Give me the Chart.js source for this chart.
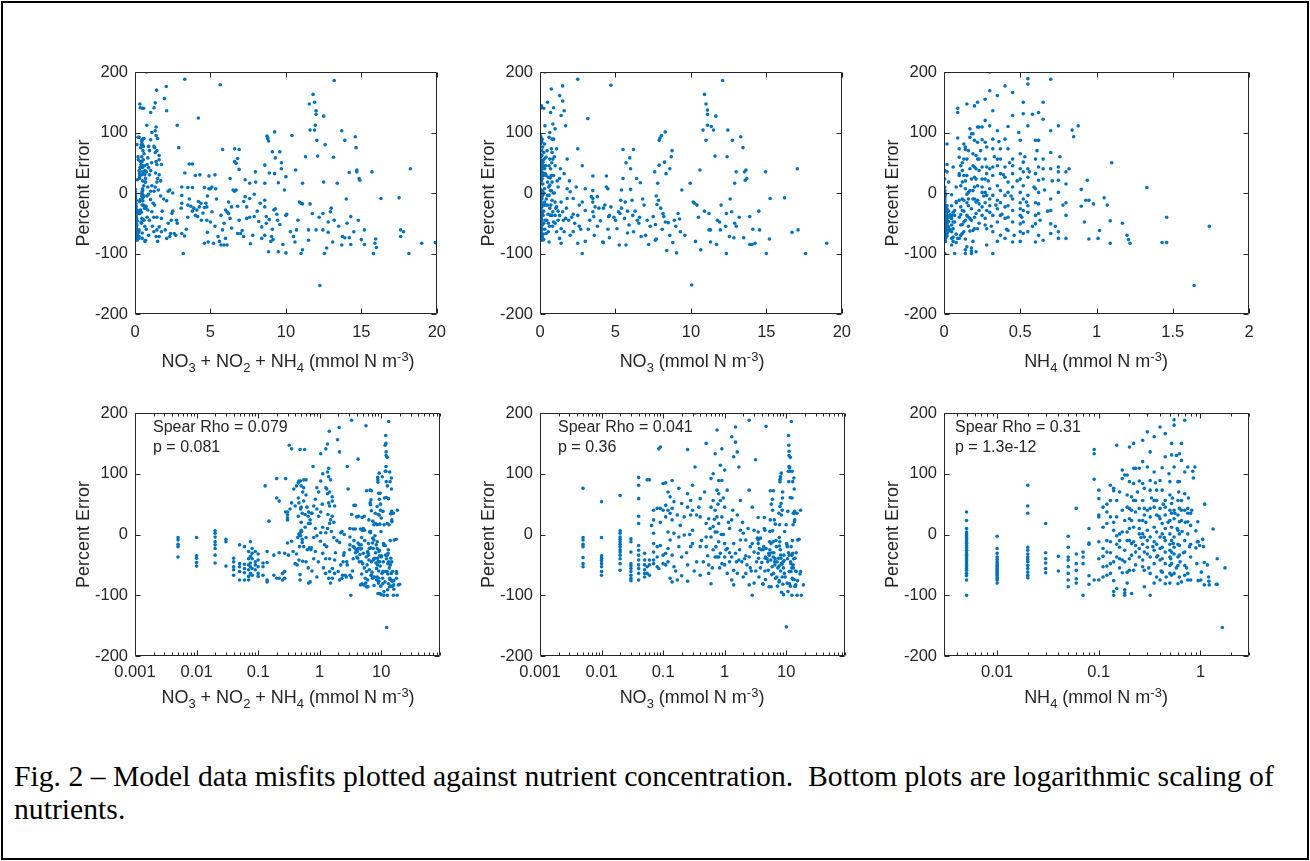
<!DOCTYPE html>
<html><head><meta charset="utf-8">
<script src="https://cdn.jsdelivr.net/npm/chart.js@4.4.1/dist/chart.umd.min.js"></script>
<style>
html,body{margin:0;padding:0;background:#fff;}
body{width:1310px;height:861px;position:relative;overflow:hidden;font-family:"Liberation Sans",Arial,sans-serif;}
#frame{position:absolute;left:1px;top:1px;width:1304px;height:855px;border:2px solid #000;}
canvas{position:absolute;}
.xt{position:absolute;font-size:18px;color:#262626;white-space:nowrap;transform:translateX(-50%);line-height:1;}
.xt sub{font-size:72%;position:relative;top:0.38em;vertical-align:baseline;}
.xt sup{font-size:72%;position:relative;top:-0.5em;vertical-align:baseline;}
.ann{position:absolute;font-size:16px;color:#262626;line-height:20px;white-space:nowrap;}
#cap{position:absolute;left:14px;top:760px;font-family:"Liberation Serif","Times New Roman",serif;font-size:29.7px;line-height:33px;color:#000;white-space:nowrap;}
</style></head><body>
<div id="frame"></div>
<canvas id="c1"></canvas><canvas id="c2"></canvas><canvas id="c3"></canvas>
<canvas id="c4"></canvas><canvas id="c5"></canvas><canvas id="c6"></canvas>
<div class="xt" style="left:288px;top:352px">NO<sub>3</sub> + NO<sub>2</sub> + NH<sub>4</sub> (mmol N m<sup>-3</sup>)</div>
<div class="xt" style="left:692px;top:352px">NO<sub>3</sub> (mmol N m<sup>-3</sup>)</div>
<div class="xt" style="left:1096px;top:352px">NH<sub>4</sub> (mmol N m<sup>-3</sup>)</div>
<div class="xt" style="left:288px;top:688px">NO<sub>3</sub> + NO<sub>2</sub> + NH<sub>4</sub> (mmol N m<sup>-3</sup>)</div>
<div class="xt" style="left:692px;top:688px">NO<sub>3</sub> (mmol N m<sup>-3</sup>)</div>
<div class="xt" style="left:1096px;top:688px">NH<sub>4</sub> (mmol N m<sup>-3</sup>)</div>
<div class="ann" style="left:153px;top:417px">Spear Rho = 0.079<br>p = 0.081</div>
<div class="ann" style="left:558px;top:417px">Spear Rho = 0.041<br>p = 0.36</div>
<div class="ann" style="left:955px;top:417px">Spear Rho = 0.31<br>p = 1.3e-12</div>
<div id="cap">Fig. 2 – Model data misfits plotted against nutrient concentration.&nbsp; Bottom plots are logarithmic scaling of<br>nutrients.</div>
<script>
// ---------- DATA ----------
const yTicks = [-200, -100, 0, 100, 200];
const logLabels = [0.001, 0.01, 0.1, 1, 10];

// NO3 + NO2 + NH4 vs percent error  [x, y]
const totalNPoints = [
[0.005,-5],[0.005,-9],[0.005,-16],[0.005,-20],[0.005,-37],
[0.01,-5],[0.01,-35],[0.01,-39],[0.01,-46],[0.01,-52],
[0.02,6],[0.02,2],[0.02,-4],[0.02,-12],[0.02,-17],[0.02,-23],[0.02,-34],[0.02,-47],
[0.03,-8],[0.03,-12],[0.03,-52],
[0.04,-39],[0.04,-45],[0.04,-53],[0.04,-58],[0.04,-67],
[0.05,-17],[0.05,-48],[0.05,-53],[0.05,-61],[0.05,-75],
[0.06,-20],[0.06,-49],[0.06,-56],[0.06,-63],[0.06,-75],
[0.07,-28],[0.07,-40],[0.07,-50],[0.07,-58],[0.07,-69],[0.07,-75],
[0.075,-12],[0.075,-36],[0.075,-47],[0.075,-53],[0.075,-64],
[0.08,-23],[0.08,-31],[0.08,-40],[0.08,-56],[0.08,-67],
[0.09,-28],[0.09,-45],[0.09,-50],[0.09,-58],
[0.1,-32],[0.1,-42],[0.1,-53],[0.1,-64],[0.1,-69],
[0.12,-47],[0.12,-53],[0.12,-67],
[0.14,-28],[0.14,-46],[0.14,-75],[0.14,-78],[0.15,22],[0.13,80],
[0.18,-34],[0.18,-67],[0.2,60],[0.2,92],[0.2,-72],[0.22,55],[0.22,-30],[0.22,-72],[0.25,-64],[0.25,-75],
[0.28,92],[0.28,37],[0.3,32],[0.3,27],[0.3,-14],[0.31,-34],[0.27,-31],[0.27,-61],[0.27,-72],[0.32,147],[0.35,141],[0.48,140],
[0.3,37],[0.3,24],[0.33,42],[0.35,52],[0.4,47],[0.46,52],[0.49,42],[0.58,33],[0.66,37],[0.73,35],[0.42,80],[0.46,88],
[0.49,88],[0.38,75],[0.53,70],[0.55,77],[0.48,3],[0.49,-2],[0.46,0],[0.5,7],[0.58,12],[0.6,-5],[0.66,18],[0.7,24],
[0.35,-11],[0.37,-28],[0.66,-80],[0.48,-75],[0.48,-66],[0.46,-42],[0.42,-32],[0.53,-44],[0.52,-13],[0.68,-22],[0.73,-22],
[0.8,-5],[0.9,-2],[0.85,-28],[0.8,-40],[0.78,112],[0.76,200],[0.8,47],[0.85,58],[0.9,42],[0.96,30],[0.96,70],[0.9,77],
[0.45,85],[0.5,80],[0.55,90],[0.6,65],[0.62,45],[0.65,30],[0.52,-8],[0.55,-20],[0.6,-45],[0.63,-25],[0.7,18],[0.7,-78],
[0.72,-25],[0.75,35],[0.85,10],[0.95,-45],[0.57,140],[0.4,-48],[0.45,30],[0.5,45],[0.44,-5],[0.51,5],
[1.04,88],[1.12,100],[1.34,103],[1.4,109],[1.4,95],[1.26,77],[1.45,70],[1.34,67],[1.6,62],[1.45,47],[1.4,52],[1.75,47],
[1.36,33],[1.6,30],[1.5,24],[1.45,18],[1.34,10],[1.26,3],[1.12,12],[1.04,3],[1.04,37],[1.03,-11],[1.2,-17],[1.12,-31],
[1.25,-40],[1.45,-40],[1.75,-42],[1.25,-64],[1.4,-72],[1.5,-80],[1.45,-61],[1.6,-72],[1.75,-64],[2.1,-75],[2.0,-61],
[2.35,-67],[2.7,-70],[3.1,-67],[3.2,-100],[2.1,-13],[2.2,3],[2.5,0],[3.1,-17],[3.5,-20],[3.1,-4],[3.5,9],[3.8,9],
[3.3,33],[3.6,48],[3.8,48],[2.9,75],[2.8,112],[4.2,124],[3.3,188],[2.07,176],[1.43,170],[1.95,156],[1.26,141],[1.04,133],
[1.34,149],[2.1,136],[2.6,-67],[2.45,-34],[2.75,-45],[3.06,-25],[3.28,-71],[3.7,-22],[3.9,-25],[4.0,-37],[4.15,-39],
[4.26,-23],[4.37,-17],[1.6,-56],[2.3,-72],[1.1,50],[1.5,90],[1.3,75],[1.6,55],[1.7,-5],[1.8,-30],[2.2,-50],[2.4,-45],[2.3,5],
[4.0,29],[4.9,7],[5.1,10],[5.35,7],[4.9,28],[4.7,-17],[4.76,-23],[4.76,-45],[5,-48],[4.85,-81],[5.5,-72],[5.6,-80],
[5.8,-61],[5.9,-86],[6.1,-86],[5.8,72],[6.3,24],[6.4,-23],[6.1,-31],[6.2,-34],[6.5,5],[6.7,49],[6.8,57],[6.9,39],
[6.9,72],[6.7,5],[6.9,-45],[7,-67],[7.2,-72],[7.3,-6],[7.4,-23],[7.4,-42],[7.3,22],[7.6,16],[7.65,-84],[7.98,35],
[7.9,-39],[8.3,-17],[8.4,-56],[8.6,-12],[8.6,-23],[8.7,-39],[8.7,-50],[8.6,-70],[8.6,46],[8.6,16],[8.75,94],[8.8,90],
[8.85,86],[8.85,-97],[9.1,-60],[9.05,-72],[9.15,-77],[9.1,68],[9.25,101],[9.3,58],[9.25,32],[9.3,-26],[9.45,-45],
[9.5,-97],[9.6,68],[9.7,50],[9.7,40],[10.05,-35],[10.3,-64],[10.6,-81],[10.65,38],[10.9,-15],[11.1,-18],[11.1,-94],
[11.1,16],[11.5,-61],[11.55,147],[11.6,104],[11.6,-18],[11.75,-34],[11.8,163],[11.9,104],[11.95,112],[12,136],[12,130],
[12.05,87],[12.1,61],[12.25,-153],[12.45,-61],[12.45,-34],[12.55,-100],[12.5,127],[12.8,-48],[12.95,-31],[13.15,59],
[13.1,-81],[13.2,-45],[13.2,186],[13.4,16],[13.7,103],[13.9,87],[13.75,-72],[13.9,-74],[14.05,-50],[14.2,34],[14.3,-39],
[14.3,-85],[14.2,-74],[14.6,93],[14.65,75],[14.7,38],[14.7,35],[14.85,24],[14.9,21],[15.2,-61],[15.2,-85],[15.7,35],
[15.8,-100],[15.95,-76],[15.9,-83],[16.3,-9],[17.5,-8],[17.6,-61],[17.8,-64],[18.15,-100],[18.25,40],[19.9,-82],
[5.65,179],[4.3,30],[5.3,30],[6.6,73],[6.6,52],[10,27],[8.9,33],[9.5,17],[8,18],[12.5,18],[6.6,3],[7.6,-9],
[4.2,-14],[4.6,-24],[4.1,-28],[4.5,-33],[5.1,-31],[6,-28],[6.8,-22],[7.2,-14],[9.2,-28],[11,-17],[10,-37],[5.7,-37],
[6.3,-42],[7.6,-40],[8.2,-47],[8.9,-44],[9.6,-52],[10.7,-61],[12,-61],[14.5,-64],[17.6,-72],[19,-83],[15,-77],[13.7,-86],
[12.7,-91],[10,-99],[11,-100],[6.8,-67],[6,-75],[5.2,-83],[5.7,-86],[4.6,-83],[3.5,-40],[4.6,9],[5,7],[3.1,10],[3.6,-10],
[3.8,-30],[4.4,-45],[5.3,-55],[5.9,-50],[6.4,-58],[7.1,-62],[7.8,-70],[8.4,-75],[9.0,-80],[9.8,-85],[10.5,-72],[11.5,-78],
[12.8,-65],[13.5,-55],[14.8,-45],[16,-90],[8.1,-30],[9.4,-35],[10.8,-45],[12.2,-40],[13,-25],[6.2,-15],[5.4,-10],[4.8,-5],
[7.9,-2],[9.9,5],[11.3,60],[12.6,80],[10.4,95],[11.9,150],[14,-10],[0.55,55],[0.5,20],[0.45,60],[0.6,90],[0.52,35],
[0.47,-20],[0.43,-50],[0.65,-55],[0.75,-60],[0.9,-70],[1.15,-55],[1.3,-20],[1.55,5],[1.7,20],[1.9,-10],[2.5,-30],
[2.8,-50],[3.4,-60],[4.8,-65]
];

// NO3 vs percent error  [x, y]
const no3Points = [
[0.005,76],[0.005,-5],[0.005,-9],[0.005,-16],[0.005,-20],[0.005,-38],[0.005,-48],[0.005,-53],
[0.01,54],[0.01,-5],[0.01,-35],[0.01,-39],[0.01,-43],[0.01,-48],[0.01,-53],[0.01,-61],[0.01,-67],
[0.02,64],[0.02,6],[0.02,2],[0.02,-4],[0.02,-8],[0.02,-12],[0.02,-16],[0.02,-20],[0.02,-25],[0.02,-29],[0.02,-34],
[0.02,-40],[0.02,-48],[0.02,-59],
[0.03,-7],[0.03,-12],[0.03,-29],[0.03,-48],[0.03,-52],[0.03,-56],[0.03,-61],[0.03,-67],[0.03,-72],[0.03,-76],
[0.04,94],[0.04,81],[0.04,59],[0.04,30],[0.04,18],[0.04,-18],[0.04,-26],[0.04,-34],[0.04,-42],[0.04,-50],[0.04,-56],
[0.04,-64],[0.04,-75],
[0.05,-31],[0.05,-42],[0.05,-50],[0.05,-58],[0.05,-64],[0.05,-70],
[0.055,90],[0.055,-53],[0.055,-64],[0.06,90],[0.06,-42],[0.06,-50],[0.06,-67],[0.065,15],
[0.07,40],[0.07,24],[0.07,2],[0.07,-15],[0.07,-29],[0.07,-42],[0.07,-48],
[0.08,43],[0.08,-20],[0.08,-37],[0.08,-53],[0.085,141],[0.085,-56],[0.09,144],[0.09,43],[0.09,-18],
[0.1,84],[0.1,40],[0.1,-34],[0.1,-48],[0.11,85],[0.11,48],[0.11,29],[0.11,-31],[0.11,-50],
[0.12,70],[0.12,40],[0.12,4],[0.12,-23],[0.13,62],[0.13,35],[0.13,-9],[0.13,-72],
[0.14,89],[0.14,43],[0.14,24],[0.14,-34],[0.14,-78],[0.15,54],[0.15,2],[0.15,-53],
[0.17,32],[0.17,-75],[0.18,76],[0.18,-4],[0.18,-20],[0.2,51],[0.2,-37],[0.2,-68],[0.22,29],[0.22,-1],
[0.25,140],[0.25,67],[0.25,45],[0.25,-50],[0.25,-77],[0.28,56],[0.28,32],[0.28,-20],[0.3,81],[0.3,40],[0.3,7],[0.3,-15],
[0.33,111],[0.33,200],[0.35,32],[0.35,-45],[0.4,59],[0.4,29],[0.4,-67],[0.4,-20],[0.45,-45],
[0.5,150],[0.5,18],[0.5,-4],[0.5,-20],[0.55,26],[0.55,-64],[0.6,92],[0.6,45],[0.6,-4],[0.6,-81],
[0.65,100],[0.65,56],[0.65,13],[0.7,133],[0.7,40],[0.7,4],[0.7,-37],[0.75,172],[0.75,73],[0.75,29],[0.75,4],[0.75,-37],
[0.8,89],[0.8,67],[0.8,18],[0.8,-12],[0.8,-37],[0.85,114],[0.85,56],[0.85,-31],[0.9,141],[0.9,89],[0.9,29],[0.9,-48],
[1.0,106],[1.0,45],[1.0,-15],[1.0,-37],[1.1,73],[1.1,-23],[1.1,-64],[1.3,161],[1.3,24],[1.3,-75],[1.3,-37],
[1.4,128],[1.4,-15],[1.4,-59],[1.4,-83],[1.5,152],[1.5,177],[1.5,-31],[1.6,136],[1.6,32],[1.6,-64],[1.7,111],[1.7,-42],
[1.8,56],[1.8,7],[1.8,-9],[2.0,-70],[2.0,2],[2.2,-9],[2.2,-64],[2.5,188],[2.5,73],[2.5,-37],[2.5,-83],[2.8,45],
[2.8,-100],[2.8,-15],[3,7],[3,-29],[3.3,-45],[3.5,4],[3.5,-9],[3.5,-31],
[2.1,-40],[2.3,-50],[2.6,-20],[2.7,-60],[1.9,-45],[2.4,10],[1.2,-45],[1.2,-30],[1.0,-50],[0.95,0],[1.15,20],[0.65,-25],[0.55,-50],
[3.17,123],[3.5,28],[3.4,-6],[3.5,-15],[3.65,-23],[3.56,-39],[3.8,-6],[3.9,-25],[4.0,-46],[4.15,-81],[4.2,-82],
[4.4,28],[4.4,10],[4.5,7],[4.55,-39],[4.6,-37],[4.6,-74],[4.7,178],[4.7,-23],
[5.1,-59],[5.2,-31],[5.25,-86],[5.3,-34],[5.35,-12],[5.4,5],[5.5,24],[5.5,72],
[5.6,-42],[5.65,-15],[5.7,-86],[5.7,50],[5.8,-66],[5.9,-53],[5.95,58],[6.0,6],[6.0,40],[6.1,-12],[6.15,-37],[6.2,72],[6.2,-64],
[6.4,24],[6.45,-45],[6.55,-50],[6.65,17],[6.7,-72],[7.0,-70],[7.2,-85],
[7.5,-39],[7.6,35],[7.65,-52],[7.65,-78],[7.7,-76],[7.8,16],[7.75,-19],[7.85,-12],[7.9,46],[7.9,87],[7.95,91],[8.05,95],
[8.15,-34],[8.2,-39],[8.25,51],[8.3,101],[8.35,32],[8.3,-48],[8.4,-95],[8.5,-49],[8.6,-70],[8.6,40],[8.7,60],[8.75,70],[8.8,-82],
[9.05,-99],[9.15,-34],[9.25,-43],[9.3,-64],
[9.95,16],[10.05,-152],[10.15,-15],[10.25,-17],[10.4,-20],[10.6,38],[10.65,-94],
[10.8,104],[10.9,163],[11,87],[11,147],[11.1,137],[11.1,130],[11.1,112],[11.2,-34],[11.2,-61],[11.3,-81],[11.3,-61],
[11.35,110],[11.5,104],[11.6,61],[11.65,127],[11.75,-45],[11.9,-48],[11.95,-61],
[12.1,186],[12.35,-100],[12.35,-34],[12.4,60],[12.45,104],[12.55,-72],[12.7,-31],[12.75,87],[12.9,16],[12.9,-50],[12.85,-74],[13,35],
[13.3,93],[13.45,75],[13.5,-74],[13.55,35],[13.65,38],[13.6,21],[13.7,24],[13.9,-39],[13.9,-85],[14.05,-85],[14.25,-83],
[14.55,-61],[14.95,35],[15,-100],[15.2,-76],[15.25,-9],[16.2,-8],[16.7,-65],[17.05,40],[17.1,-61],[17.6,-100],[19,-83],
[4.3,-20],[4.9,-40],[5.4,-25],[6.3,-30],[7.1,-45],[8.0,-25],[9.0,-55],[10.5,-40],[12.0,-20],[13.0,-55],[14.5,-30],[6.8,-10],
[3.2,-60],[3.8,-55],[4.5,-60],[5.0,-45],[5.8,-30],[6.6,-40],[7.3,-55],[8.1,-60],[8.9,-45],[9.6,-70],[10.3,-80],[11.7,-85],
[12.3,-55],[13.2,-40],[14.1,-60],[6.9,-20],[7.7,-5],[9.4,5],[10.9,-30],[12.6,-10],[0.09,20],[0.12,-45],[0.16,-60],
[0.19,15],[0.24,-30],[0.27,0],[0.32,-60],[0.38,45],[0.42,-10],[0.47,70],[0.53,-35],[0.58,10],[0.63,-55],[0.68,25],
[0.72,-20],[0.78,50],[0.83,-55],[0.88,0],[0.95,60],[1.05,-25],[1.2,10],[1.35,40],[1.55,-45],[1.75,-25],[1.95,20],
[2.2,-35],[2.6,-55],[3.0,-80],[3.6,-70],[4.2,-25]
];

// NH4 vs percent error  [x, y]
const nh4Points = [
[0.005,37],[0.005,23],[0.005,10],[0.005,4],[0.005,1],[0.005,-2],[0.005,-5],[0.005,-7],[0.005,-10],[0.005,-13],
[0.005,-15],[0.005,-18],[0.005,-21],[0.005,-24],[0.005,-26],[0.005,-29],[0.005,-32],[0.005,-34],[0.005,-37],[0.005,-40],
[0.005,-42],[0.005,-45],[0.005,-48],[0.005,-51],[0.005,-53],[0.005,-56],[0.005,-59],[0.005,-64],[0.005,-68],[0.005,-75],[0.005,-100],
[0.01,-3],[0.01,-23],[0.01,-31],[0.01,-37],[0.01,-41],[0.01,-45],[0.01,-48],[0.01,-51],[0.01,-53],[0.01,-56],[0.01,-59],
[0.01,-62],[0.01,-64],[0.01,-67],[0.01,-70],[0.01,-73],[0.01,-75],[0.01,-80],
[0.02,81],[0.02,47],[0.02,35],[0.02,-21],[0.02,-26],[0.02,-32],[0.02,-37],[0.02,-41],[0.02,-45],[0.02,-51],[0.02,-56],
[0.02,-62],[0.02,-67],[0.02,-71],
[0.03,18],[0.03,-30],[0.03,-40],[0.03,-47],[0.03,-56],[0.03,-63],
[0.04,-36],[0.04,-60],
[0.05,-3],[0.05,-21],[0.05,-37],[0.05,-42],[0.05,-53],[0.05,-64],[0.05,-75],[0.05,-86],
[0.06,43],[0.06,-32],[0.06,-48],[0.06,-59],[0.06,-73],[0.06,-80],
[0.07,-29],[0.07,-37],[0.07,-48],[0.07,-100],
[0.08,10],[0.08,-14],[0.08,-16],[0.08,-68],[0.08,-82],
[0.09,140],[0.09,133],[0.09,91],[0.09,-75],
[0.1,73],[0.1,59],[0.1,32],[0.1,29],[0.1,-12],[0.1,-40],[0.1,-75],
[0.11,45],[0.11,12],[0.11,-23],[0.11,-36],[0.11,-53],
[0.12,37],[0.12,18],[0.12,-10],[0.12,-29],[0.12,-52],[0.12,-67],
[0.13,81],[0.13,56],[0.13,29],[0.13,-12],[0.13,-48],[0.13,-64],
[0.14,76],[0.14,72],[0.14,7],[0.14,-45],[0.14,-76],[0.14,-94],[0.14,-100],
[0.15,147],[0.15,56],[0.15,29],[0.15,-2],[0.15,-16],[0.15,-37],[0.15,-89],
[0.16,70],[0.16,1],[0.16,-10],[0.16,-21],[0.16,-40],
[0.17,106],[0.17,92],[0.17,40],[0.17,4],[0.17,-42],[0.17,-63],
[0.18,98],[0.18,23],[0.18,-26],[0.18,-91],[0.18,-96],[0.18,-100],
[0.19,98],[0.19,65],[0.19,45],[0.19,4],[0.19,-10],[0.19,-62],
[0.2,144],[0.2,87],[0.2,43],[0.2,26],[0.2,-10],[0.2,-40],[0.2,-59],
[0.21,62],[0.21,23],[0.21,-15],[0.21,-34],[0.21,-97],
[0.22,150],[0.22,109],[0.22,84],[0.22,56],[0.22,12],[0.22,-12],[0.22,-59],
[0.23,109],[0.23,56],[0.23,37],[0.23,-18],[0.23,-29],
[0.25,109],[0.25,88],[0.25,43],[0.25,23],[0.25,10],[0.25,1],[0.25,-23],[0.25,-37],
[0.27,155],[0.27,84],[0.27,56],[0.27,23],[0.27,1],[0.27,-16],[0.27,-42],[0.27,-53],
[0.28,76],[0.28,43],[0.28,32],[0.28,-4],[0.28,-29],[0.28,-59],[0.28,-86],
[0.3,200],[0.3,169],[0.3,111],[0.3,40],[0.3,7],[0.3,-10],[0.3,-21],[0.3,-32],
[0.32,136],[0.32,89],[0.32,73],[0.32,43],[0.32,29],[0.32,-4],[0.32,-37],[0.32,-64],[0.32,-100],
[0.35,161],[0.35,103],[0.35,56],[0.35,45],[0.35,12],[0.35,-12],[0.35,-26],[0.35,-48],
[0.37,73],[0.37,56],[0.37,32],[0.37,4],[0.37,-16],[0.37,-37],[0.37,-70],
[0.4,177],[0.4,89],[0.4,43],[0.4,26],[0.4,-4],[0.4,-23],[0.4,-42],[0.4,-75],
[0.42,73],[0.42,18],[0.42,1],[0.42,-21],[0.42,-40],[0.42,-62],
[0.45,166],[0.45,128],[0.45,56],[0.45,45],[0.45,32],[0.45,10],[0.45,-10],[0.45,-29],[0.45,-48],[0.45,-81],
[0.5,87],[0.5,65],[0.5,40],[0.5,23],[0.5,1],[0.5,-16],[0.5,-26],[0.5,-37],[0.5,-51],[0.5,-64],
[0.52,150],[0.52,131],[0.52,51],[0.52,35],[0.52,12],[0.52,-10],[0.52,-29],[0.52,-48],[0.52,-67],
[0.55,189],[0.55,180],[0.55,111],[0.55,40],[0.55,26],[0.55,-4],[0.55,-21],[0.55,-32],[0.55,-64],
[0.6,87],[0.6,56],[0.6,32],[0.6,7],[0.6,-16],[0.6,-37],[0.6,-51],[0.6,-81],
[0.62,133],[0.62,87],[0.62,43],[0.62,21],[0.62,1],[0.62,-18],[0.62,-34],[0.62,-70],
[0.65,150],[0.65,122],[0.65,56],[0.65,40],[0.65,23],[0.65,-78],
[0.7,188],[0.7,103],[0.7,67],[0.7,40],[0.7,-10],[0.7,-29],[0.7,-51],[0.7,-67],
[0.75,111],[0.75,43],[0.75,35],[0.75,21],[0.75,1],[0.75,-64],[0.75,-75],
[0.8,35],[0.8,15],[0.8,-16],[0.8,-37],[0.8,-75],
[0.84,104],[0.85,93],[0.88,111],[0.9,6],[0.94,21],[0.9,-22],[0.93,-12],[0.95,-12],[0.98,-18],[0.92,-48],[0.95,-76],
[1.01,-75],[1.02,-62],[1.05,-8],[1.07,-20],[1.09,-46],[1.1,50],[1.09,-83],[1.17,-50],[1.2,-70],[1.21,-77],[1.22,-83],
[1.33,9],[1.43,-82],[1.46,-82],[1.46,-40],[1.74,-55],[1.64,-153],
[0.16,-55],[0.18,-45],[0.2,10],[0.21,40],[0.23,-50],[0.24,70],[0.26,-5],[0.29,20],[0.31,-55],[0.33,60],[0.34,-20],
[0.36,85],[0.38,-35],[0.39,30],[0.41,-60],[0.43,50],[0.44,-5],[0.46,-70],[0.48,20],[0.49,100],[0.51,-40],[0.53,60],
[0.54,-15],[0.56,35],[0.58,-55],[0.59,10],[0.61,70],[0.63,-45],[0.66,5],[0.68,-30],[0.71,20],[0.73,-55],[0.76,60],
[0.78,-20],[0.82,40],[0.14,20],[0.13,-30],[0.12,50],[0.11,-70],[0.27,120],[0.42,110],[0.58,130],[0.19,-80],[0.35,-80],[0.5,-80]
];

// ---------- CHARTS ----------
Chart.defaults.font.family = '"Liberation Sans", Arial, sans-serif';
const axisColor = '#262626';
const dotColor = '#0072BD';

const boxTicks = {
  id: 'boxTicks',
  afterDraw(chart) {
    const {ctx, chartArea: a, scales: {x, y}} = chart;
    const L = Math.round(a.left) + 0.5, R = Math.round(a.right) - 0.5;
    const T = Math.round(a.top) + 0.5, B = Math.round(a.bottom) - 0.5;
    ctx.save();
    ctx.strokeStyle = axisColor;
    ctx.lineWidth = 1;
    ctx.beginPath();
    ctx.rect(L, T, R - L, B - T);
    x.ticks.forEach(t => {
      if (t.value < x.min || t.value > x.max) return;
      const px = Math.round(x.getPixelForValue(t.value)) + 0.5;
      let len = 5;
      if (x.type === 'logarithmic') {
        const lg = Math.log10(t.value);
        len = Math.abs(lg - Math.round(lg)) < 1e-6 ? 5 : 3;
      }
      ctx.moveTo(px, B); ctx.lineTo(px, B - len);
      ctx.moveTo(px, T); ctx.lineTo(px, T + len);
    });
    y.ticks.forEach(t => {
      const py = Math.round(y.getPixelForValue(t.value)) + 0.5;
      ctx.moveTo(L, py); ctx.lineTo(L + 5, py);
      ctx.moveTo(R, py); ctx.lineTo(R - 5, py);
    });
    ctx.stroke();
    ctx.restore();
  }
};

const PADL = 75, PADT = 22, PADR = 15, XH = 40;

function makeChart(id, area, xOpts, pts, tickPad) {
  const cv = document.getElementById(id);
  const w = (area.r - area.l) + PADL + PADR;
  const h = (area.b - area.t) + PADT + XH;
  cv.width = w; cv.height = h;
  cv.style.left = (area.l - PADL) + 'px';
  cv.style.top = (area.t - PADT) + 'px';
  const xScale = Object.assign({
    position: 'bottom',
    grid: {display: false, drawTicks: false},
    border: {display: false},
    afterFit(s) { s.height = XH; }
  }, xOpts);
  xScale.ticks = Object.assign({
    autoSkip: false, maxRotation: 0, minRotation: 0, padding: tickPad,
    color: axisColor, font: {size: 16.5}
  }, xOpts.ticks || {});
  return new Chart(cv, {
    type: 'scatter',
    data: {datasets: [{
      data: pts.map(p => ({x: p[0], y: p[1]})),
      backgroundColor: dotColor, borderWidth: 0,
      pointRadius: 1.8, pointHoverRadius: 1.8
    }]},
    options: {
      responsive: false, animation: false, devicePixelRatio: 1, events: [],
      layout: {padding: {left: 0, top: PADT, right: PADR, bottom: 0}},
      plugins: {legend: {display: false}, tooltip: {enabled: false}},
      scales: {
        x: xScale,
        y: {
          type: 'linear', min: -200, max: 200,
          afterBuildTicks(s) { s.ticks = yTicks.map(v => ({value: v})); },
          ticks: {stepSize: 100, padding: 7, color: axisColor, font: {size: 16.5}},
          grid: {display: false, drawTicks: false},
          border: {display: false},
          title: {display: true, text: 'Percent Error', color: axisColor,
                  font: {size: 18}, padding: {top: 13, bottom: 0}},
          afterFit(s) { s.width = PADL; }
        }
      }
    },
    plugins: [boxTicks]
  });
}

function linX(max, step) {
  return {type: 'linear', min: 0, max: max,
          ticks: {stepSize: step, callback: v => String(Math.round(v * 100) / 100)}};
}
function logX(min, max) {
  return {
    type: 'logarithmic', min: min, max: max,
    afterBuildTicks(s) {
      s.ticks = s.ticks.filter(t => {
        const e = Math.floor(Math.log10(t.value) + 1e-9);
        const m = t.value / Math.pow(10, e);
        return Math.abs(m - 1.5) > 1e-6;
      });
    },
    ticks: {
      callback(v) {
        const hit = logLabels.find(l => Math.abs(Math.log10(v) - Math.log10(l)) < 1e-6);
        return hit !== undefined ? String(hit) : '';
      }
    }
  };
}

const topRow = {t: 72, b: 314}, botRow = {t: 413, b: 656};
const cols = [{l: 135, r: 440}, {l: 540, r: 845}, {l: 944, r: 1249}];
const A = (c, r) => ({l: c.l, r: c.r, t: r.t, b: r.b});

makeChart('c1', A(cols[0], topRow), linX(20, 5), totalNPoints, 9);
makeChart('c2', A(cols[1], topRow), linX(20, 5), no3Points, 9);
makeChart('c3', A(cols[2], topRow), linX(2, 0.5), nh4Points, 9);
makeChart('c4', A(cols[0], botRow), logX(0.001, 90), totalNPoints, 7);
makeChart('c5', A(cols[1], botRow), logX(0.001, 90), no3Points, 7);
makeChart('c6', A(cols[2], botRow), logX(0.003, 3), nh4Points, 7);
</script>
</body></html>
